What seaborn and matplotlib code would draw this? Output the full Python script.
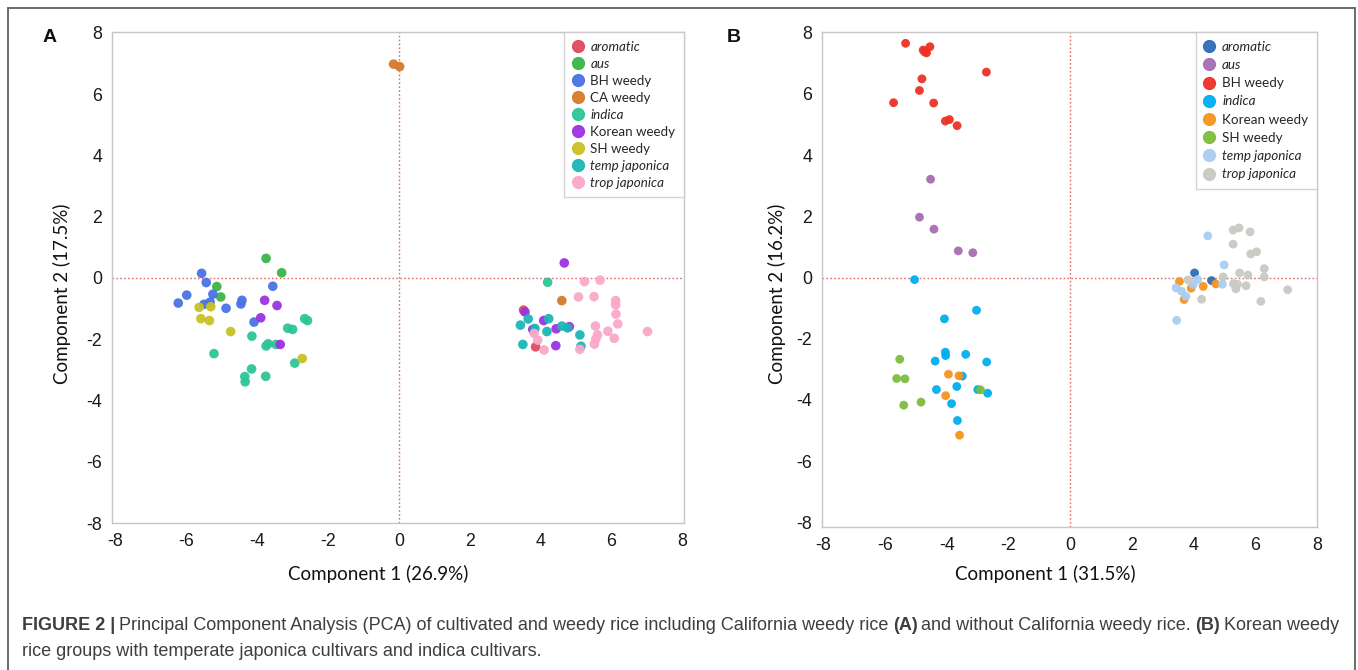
import numpy as np
import pandas as pd
import matplotlib
matplotlib.use("Agg")
import matplotlib.pyplot as plt
from matplotlib.lines import Line2D
from matplotlib.patches import Rectangle
import seaborn as sns

# ---------------- Panel A data ----------------
groups_a = ["aromatic", "aus", "BH weedy", "CA weedy", "indica", "Korean weedy",
            "SH weedy", "temp japonica", "trop japonica"]
colors_a = ["#DE4B5E", "#3BB44A", "#4A73E3", "#D57A2C", "#2EC497", "#9B33E2",
            "#C9C125", "#1DB6B6", "#F9A9C9"]

a_aromatic_x = [3.52, 3.86]
a_aromatic_y = [-1.05, -2.25]
a_aus_x = [-3.75, -3.31, -5.14, -5.03]
a_aus_y = [0.64, 0.17, -0.28, -0.62]
a_bh_x = [-5.57, -5.44, -5.99, -6.23, -5.25, -5.50, -5.33, -4.88, -4.43, -4.46, -3.56, -4.09]
a_bh_y = [0.15, -0.15, -0.56, -0.82, -0.53, -0.86, -0.79, -0.99, -0.73, -0.85, -0.27, -1.44]
a_ca_x = [-0.15, 0.02, 4.60]
a_ca_y = [6.98, 6.90, -0.74]
a_indica_x = [-4.15, -3.75, -3.69, -3.47, -3.14, -3.00, -2.66, -2.58, -5.22, -2.94,
              -4.16, -4.35, -4.34, -3.76, 4.20]
a_indica_y = [-1.90, -2.22, -2.15, -2.17, -1.64, -1.68, -1.33, -1.39, -2.47, -2.78,
              -2.97, -3.22, -3.39, -3.21, -0.14]
a_korean_x = [-3.79, -3.44, -3.90, -3.35, 4.67, 3.56, 4.09, 3.78, 4.44, 4.81, 4.43]
a_korean_y = [-0.73, -0.90, -1.30, -2.17, 0.49, -1.11, -1.39, -1.68, -1.66, -1.59, -2.21]
a_sh_x = [-5.64, -5.31, -5.59, -5.35, -4.75, -2.73]
a_sh_y = [-0.96, -0.94, -1.33, -1.39, -1.75, -2.63]
a_temp_x = [3.65, 3.43, 4.23, 3.84, 4.18, 4.60, 4.76, 5.11, 3.50, 5.14]
a_temp_y = [-1.34, -1.54, -1.33, -1.65, -1.75, -1.57, -1.63, -1.86, -2.17, -2.23]
a_trop_x = [5.24, 5.68, 5.07, 5.51, 6.12, 6.12, 6.13, 6.18, 3.82, 5.55, 5.90, 5.61,
            5.56, 6.08, 7.02, 3.92, 4.10, 5.11, 5.52]
a_trop_y = [-0.12, -0.07, -0.62, -0.61, -0.74, -0.88, -1.18, -1.50, -1.81, -1.57, -1.74,
            -1.86, -2.00, -1.97, -1.75, -2.03, -2.35, -2.33, -2.16]

# ---------------- Panel B data ----------------
groups_b = ["aromatic", "aus", "BH weedy", "indica", "Korean weedy", "SH weedy",
            "temp japonica", "trop japonica"]
colors_b = ["#2F6DB5", "#A66CB1", "#EE3124", "#00AEEF", "#F7941D", "#7DBD3D",
            "#A9CDF1", "#C9CAC2"]

b_aromatic_x = [4.03, 4.58]
b_aromatic_y = [0.15, -0.10]
b_aus_x = [-4.53, -4.89, -4.42, -3.63, -3.16]
b_aus_y = [3.21, 1.97, 1.58, 0.87, 0.81]
b_bh_x = [-5.34, -4.77, -4.55, -4.66, -4.72, -2.72, -4.81, -4.89, -5.73, -4.43, -4.05, -3.92, -3.67]
b_bh_y = [7.65, 7.43, 7.54, 7.34, 7.37, 6.71, 6.49, 6.11, 5.71, 5.70, 5.11, 5.16, 4.96]
b_indica_x = [-5.05, -3.04, -4.08, -4.05, -4.04, -3.39, -4.38, -2.71, -3.50, -3.68,
              -4.34, -3.00, -2.68, -3.85, -3.66]
b_indica_y = [-0.07, -1.07, -1.35, -2.44, -2.55, -2.51, -2.73, -2.76, -3.22, -3.56,
              -3.66, -3.66, -3.78, -4.12, -4.67]
b_korean_x = [-3.95, -3.61, -4.04, -3.59, 3.54, 3.92, 4.31, 4.72, 3.69]
b_korean_y = [-3.16, -3.21, -3.86, -5.15, -0.13, -0.35, -0.29, -0.21, -0.72]
b_sh_x = [-5.53, -5.63, -5.36, -4.84, -5.40, -2.91]
b_sh_y = [-2.67, -3.30, -3.31, -4.07, -4.17, -3.67]
b_temp_x = [4.46, 4.99, 4.93, 4.13, 3.99, 3.43, 3.61, 3.75, 3.45]
b_temp_y = [1.36, 0.41, -0.22, -0.07, -0.23, -0.34, -0.45, -0.61, -1.40]
b_trop_x = [5.28, 5.47, 5.83, 5.28, 5.85, 6.04, 6.29, 6.29, 5.49, 5.76, 4.96, 3.82,
            5.29, 5.42, 5.37, 5.70, 7.05, 6.18, 4.26]
b_trop_y = [1.55, 1.62, 1.49, 1.09, 0.77, 0.84, 0.29, 0.02, 0.15, 0.08, 0.02, -0.08,
            -0.20, -0.22, -0.37, -0.27, -0.40, -0.78, -0.71]

italic_groups = {"aromatic", "aus", "indica", "temp japonica", "trop japonica"}

caption_line1 = [
    ("FIGURE 2 |", True),
    ("Principal Component Analysis (PCA) of cultivated and weedy rice including California weedy rice", False),
    ("(A)", True),
    ("and without California weedy rice.", False),
    ("(B)", True),
    ("Korean weedy", False),
]
caption_line2 = "rice groups with temperate japonica cultivars and indica cultivars."


def build(groups, xs, ys):
    rows = []
    for g, gx, gy in zip(groups, xs, ys):
        for x, y in zip(gx, gy):
            rows.append((g, x, y))
    return pd.DataFrame(rows, columns=["group", "pc1", "pc2"])


df_a = build(groups_a,
             [a_aromatic_x, a_aus_x, a_bh_x, a_ca_x, a_indica_x, a_korean_x, a_sh_x, a_temp_x, a_trop_x],
             [a_aromatic_y, a_aus_y, a_bh_y, a_ca_y, a_indica_y, a_korean_y, a_sh_y, a_temp_y, a_trop_y])
df_b = build(groups_b,
             [b_aromatic_x, b_aus_x, b_bh_x, b_indica_x, b_korean_x, b_sh_x, b_temp_x, b_trop_x],
             [b_aromatic_y, b_aus_y, b_bh_y, b_indica_y, b_korean_y, b_sh_y, b_temp_y, b_trop_y])

sns.set_style("white")
plt.rcParams["font.family"] = ["Liberation Sans", "DejaVu Sans"]
plt.rcParams["axes.unicode_minus"] = False

W, H = 1358, 670
fig = plt.figure(figsize=(W / 100, H / 100), dpi=100)


def fx(px):
    return px / W


def fy(py):
    return 1 - py / H


ax_a = fig.add_axes([fx(112), fy(523), fx(684) - fx(112), fy(32) - fy(523)])
ax_b = fig.add_axes([fx(822), fy(527), fx(1317) - fx(822), fy(32) - fy(527)])

# frame around the figure
fig.patches.append(Rectangle((fx(8), fy(700)), fx(1355) - fx(8), fy(8) - fy(700),
                             transform=fig.transFigure, fill=False,
                             edgecolor="#6A6A6A", linewidth=1.4))


def style_axes(ax, xlim, ylim):
    ax.set_xlim(*xlim)
    ax.set_ylim(*ylim)
    ax.set_xticks(range(-8, 9, 2))
    ax.set_yticks(range(-8, 9, 2))
    for s in ax.spines.values():
        s.set_color("#C6C6C6")
        s.set_linewidth(1.0)
    ax.tick_params(direction="out", length=4, width=1, color="#C0C0C0",
                   labelsize=12.8, labelcolor="#1A1A1A", pad=3)
    ax.axvline(0, color="#E46A6A", linestyle=(0, (1.2, 1.6)), linewidth=1.0, zorder=0)
    ax.axhline(0, color="#E46A6A", linestyle=(0, (1.2, 1.6)), linewidth=1.0, zorder=0)
    ax.set_xlabel("")
    ax.set_ylabel("")


def add_legend(ax, groups, colors, fsize, spacing):
    handles = [Line2D([0], [0], marker="o", linestyle="", markersize=8.5,
                      markerfacecolor=c, markeredgecolor=c, alpha=0.95) for c in colors]
    leg = ax.legend(handles, groups, loc="upper right", bbox_to_anchor=(1.0, 1.0),
                    frameon=True, fancybox=False, edgecolor="#C8C8C8",
                    prop={"family": ["Lato", "DejaVu Sans"], "size": fsize},
                    handletextpad=0.6, labelspacing=spacing, borderpad=0.65,
                    handlelength=0.7, borderaxespad=0.0)
    leg.get_frame().set_linewidth(1.0)
    for t in leg.get_texts():
        if t.get_text() in italic_groups:
            t.set_fontstyle("italic")
    return leg


sns.scatterplot(data=df_a, x="pc1", y="pc2", hue="group", hue_order=groups_a,
                palette=colors_a, s=48, linewidth=0, alpha=0.95, legend=False, ax=ax_a)
style_axes(ax_a, (-8.1, 8.05), (-8.0, 8.03))
add_legend(ax_a, groups_a, colors_a, 9.6, 0.375)

sns.scatterplot(data=df_b, x="pc1", y="pc2", hue="group", hue_order=groups_b,
                palette=colors_b, s=40, linewidth=0, alpha=0.95, legend=False, ax=ax_b)
style_axes(ax_b, (-8.05, 8.0), (-8.15, 8.02))
add_legend(ax_b, groups_b, colors_b, 9.75, 0.46)

lab_font = {"family": ["Lato", "DejaVu Sans"], "size": 13.5, "color": "#111111"}
fig.text(fx(378), fy(574), "Component 1 (26.9%)", ha="center", va="center", fontdict=lab_font)
fig.text(fx(1045), fy(574), "Component 1 (31.5%)", ha="center", va="center", fontdict=lab_font)
fig.text(fx(62), fy(294), "Component 2 (17.5%)", ha="center", va="center", rotation=90, fontdict=lab_font)
fig.text(fx(777), fy(294), "Component 2 (16.2%)", ha="center", va="center", rotation=90, fontdict=lab_font)

fig.text(fx(50), fy(38), "A", ha="center", va="center", fontsize=14, fontweight="bold", color="#111111")
fig.text(fx(734), fy(38), "B", ha="center", va="center", fontsize=14, fontweight="bold", color="#111111")

# caption, placed piece by piece
cap_color = "#3E3E3E"
cap_size = 13.0
renderer = fig.canvas.get_renderer()
xpos = 22.0
gap = 4.0
for txt, bold in caption_line1:
    t = fig.text(fx(xpos), fy(626), txt, ha="left", va="center", fontsize=cap_size,
                 fontweight="bold" if bold else "normal", color=cap_color)
    bb = t.get_window_extent(renderer=renderer)
    xpos = bb.x1 + gap
fig.text(fx(22), fy(651), caption_line2, ha="left", va="center", fontsize=cap_size, color=cap_color)

fig.savefig("out.png", dpi=100)
